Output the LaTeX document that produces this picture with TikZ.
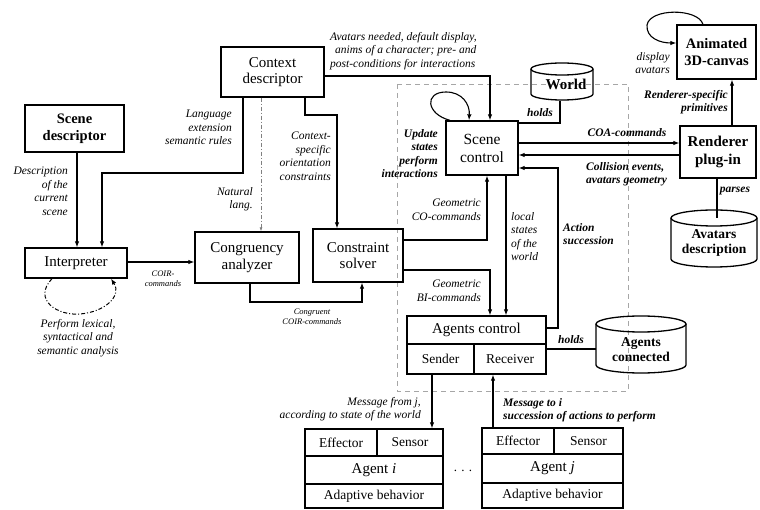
\documentclass[tikz,border=0pt]{standalone}
\usepackage{fontspec}
\setmainfont{Liberation Serif}
\usetikzlibrary{arrows.meta}
\begin{document}
\begin{tikzpicture}[x=1pt,y=1pt,
  box/.style={draw, line width=1.3pt, align=center, inner sep=0pt, font=\fontsize{15}{16.5}\selectfont},
  boldbox/.style={box, font=\fontsize{14.5}{16.5}\selectfont\bfseries},
  cell/.style={draw, line width=1.3pt, align=center, inner sep=0pt, font=\fontsize{13.5}{15}\selectfont},
  cylline/.style={line width=1.3pt},
  cyltext/.style={align=center, inner sep=0pt, font=\fontsize{13.5}{15}\selectfont\bfseries},
  conn/.style={line width=1.1pt},
  arr/.style={conn, -{Latex[length=6pt,width=4.5pt]}},
  lbl/.style={inner sep=0pt, font=\fontsize{11.5}{13.5}\selectfont\itshape},
  lblb/.style={inner sep=0pt, font=\fontsize{11.5}{13.5}\selectfont\bfseries\itshape},
  tiny/.style={inner sep=0pt, align=center, font=\fontsize{8.5}{10}\selectfont\itshape},
  frame/.style={gray!70, line width=0.8pt, dash pattern=on 5pt off 4pt},
  dashdot/.style={line width=1pt, dash pattern=on 4pt off 2pt on 1pt off 2pt}
]
\useasboundingbox (0,0) rectangle (760,-510);

% boundary of the simulation core
\draw[frame] (397,-84) rectangle (628,-391);

% ---------- boxes ----------
\node[boldbox, minimum width=99pt, minimum height=47pt] (sd) at (74.5,-128.5) {Scene\\descriptor};
\node[box, minimum width=102pt, minimum height=30pt] (interp) at (76,-263) {Interpreter};
\node[box, minimum width=103pt, minimum height=50pt] (ctx) at (272.5,-72) {Context\\descriptor};
\node[box, minimum width=104pt, minimum height=51pt] (cong) at (247,-257.5) {Congruency\\analyzer};
\node[box, minimum width=90pt, minimum height=53pt] (cs) at (358,-255.5) {Constraint\\solver};
\node[box, minimum width=72pt, minimum height=54pt, font=\fontsize{15.5}{18}\selectfont] (sc) at (482,-148) {Scene\\control};
\node[boldbox, minimum width=79pt, minimum height=54pt] (canvas) at (716.5,-52) {Animated\\3D-canvas};
\node[boldbox, minimum width=76pt, minimum height=52pt, font=\fontsize{15}{17.5}\selectfont\bfseries] (rend) at (718,-152) {Renderer\\plug-in};

% agents control
\node[box, minimum width=139pt, minimum height=58pt] (agc) at (476.5,-345) {};
\node[inner sep=0pt, font=\fontsize{15}{16.5}\selectfont] (agt) at (476.5,-330) {Agents control};
\node[cell, minimum width=67pt, minimum height=30pt] (snd) at (440.5,-359) {Sender};
\node[cell, minimum width=72pt, minimum height=30pt] (rcv) at (510,-359) {Receiver};

% agent i
\node[cell, minimum width=72pt, minimum height=27pt] (effi) at (341,-442.5) {Effector};
\node[cell, minimum width=66pt, minimum height=27pt] (seni) at (410,-442.5) {Sensor};
\node[cell, minimum width=138pt, minimum height=28pt, font=\fontsize{15}{16.5}\selectfont] (agti) at (374,-470) {Agent \textit{i}};
\node[cell, minimum width=138pt, minimum height=24pt] (adpi) at (374,-496) {Adaptive behavior};

% agent j
\node[cell, minimum width=72pt, minimum height=26pt] (effj) at (518,-441) {Effector};
\node[cell, minimum width=69pt, minimum height=26pt] (senj) at (588.5,-441) {Sensor};
\node[cell, minimum width=141pt, minimum height=29pt, font=\fontsize{15}{16.5}\selectfont] (agtj) at (552.5,-468.5) {Agent \textit{j}};
\node[cell, minimum width=141pt, minimum height=25pt] (adpj) at (552.5,-495.5) {Adaptive behavior};

\node[inner sep=0pt, font=\fontsize{13}{15}\selectfont] (dots) at (463,-471) {.\,\,.\,\,.};

% ---------- data stores ----------
% World
\draw[cylline] (531,-69) -- (531,-94) arc[start angle=180,end angle=360,x radius=31,y radius=6] -- (593,-69);
\draw[cylline] (562,-69) ellipse[x radius=31,y radius=6];
\node[inner sep=0pt, minimum width=62pt, minimum height=37pt] (world) at (562,-82) {};
\node[cyltext, font=\fontsize{15}{17}\selectfont\bfseries] at (566,-84) {World};

% Agents connected
\draw[cylline] (596,-324) -- (596,-365) arc[start angle=180,end angle=360,x radius=45,y radius=8] -- (686,-324);
\draw[cylline] (641,-324) ellipse[x radius=45,y radius=8];
\node[cyltext, minimum width=90pt, minimum height=53pt] (acon) at (641,-350) {Agents\\connected};

% Avatars description
\draw[cylline] (671,-218) -- (671,-259) arc[start angle=180,end angle=360,x radius=43,y radius=8] -- (757,-218);
\draw[cylline] (714,-218) ellipse[x radius=43,y radius=8];
\node[cyltext, minimum width=86pt, minimum height=50pt] (avd) at (714,-243) {Avatars\\description};

% ---------- connectors ----------
% scene descriptor -> interpreter
\draw[arr] ([xshift=2.5pt]sd.south) -- ([xshift=2.5pt]sd.south |- interp.north);
\node[lbl, align=right, anchor=north east] at (68,-167) {Description\\of the\\current\\scene};

% context descriptor -> interpreter
\coordinate (b1) at (102,-173);
\draw[arr] ([xshift=-29.5pt]ctx.south) |- (b1) -- (b1 |- interp.north);
\node[lbl, align=right, anchor=north east] at (232,-110) {Language\\extension\\semantic rules};

% interpreter self loop
\draw[dashdot, -{Latex[length=6pt,width=4.5pt]}] ([xshift=-24pt]interp.south)
  .. controls (32,-300) and (58,-316) .. (80,-314)
  .. controls (105,-312) and (122,-296) .. ([xshift=35pt]interp.south);
\node[lbl, align=center, anchor=north] at (78,-319) {Perform lexical,\\syntactical and\\semantic analysis};

% interpreter -> congruency analyzer
\draw[arr] ([yshift=1pt]interp.east) -- ([yshift=1pt]interp.east -| cong.west);
\node[tiny] at (163,-279) {COIR-\\commands};

% context descriptor -> congruency analyzer (natural language)
\draw[gray, dashdot, line width=0.7pt, -{Latex[length=4pt,width=3pt]}] ([xshift=-11.5pt]ctx.south) -- ([xshift=-11.5pt]ctx.south |- cong.north);
\node[lbl, align=right, anchor=north east] at (253,-187) {Natural\\lang.};

% context descriptor -> constraint solver
\coordinate (b2) at (337,-115);
\draw[arr] ([xshift=32.5pt]ctx.south) |- (b2) -- (b2 |- cs.north);
\node[lbl, align=right, anchor=north east] at (331,-132) {Context-\\specific\\orientation\\constraints};

% congruency analyzer -> constraint solver
\coordinate (b3) at (362,-302);
\draw[arr] ([xshift=3pt]cong.south) |- (b3) -- (b3 |- cs.south);
\node[tiny] at (312,-317) {Congruent\\COIR-commands};

% context descriptor -> scene control
\draw[arr] ([yshift=-4pt]ctx.east) -| ([xshift=8pt]sc.north);
\node[lbl, align=left, anchor=north west] at (330,-32) {Avatars needed, default display,\\\hspace*{5pt}anims of a character; pre- and\\post-conditions for interactions};

% scene control self loop
\draw[arr] ([xshift=-32pt]sc.north) .. controls (426,-114) and (424,-92) .. (446,-92)
  .. controls (462,-92) and (470,-104) .. ([xshift=-13pt]sc.north);
\node[lblb, align=right, anchor=north east] at (438,-129) {Update\\states\\perform\\interactions};

% world holds scene control
\draw[conn] ([xshift=-2pt]world.south) |- ([yshift=25pt]sc.east);
\node[lblb] at (540,-113) {holds};

% scene control <-> renderer
\draw[arr] ([yshift=5pt]sc.east) -- ([yshift=5pt]sc.east -| rend.west);
\node[lblb] at (627,-133) {COA-commands};
\draw[arr] ([yshift=-7pt]sc.east -| rend.west) -- ([yshift=-7pt]sc.east);
\node[lblb, align=left, anchor=north west] at (586,-162) {Collision events,\\avatars geometry};

% agents control -> scene control
\coordinate (b4) at (558,-168);
\draw[arr] ([yshift=17pt]agc.east) -| (b4) -- (b4 -| sc.east);
\node[lblb, align=left, anchor=north west] at (563,-223) {Action\\succession};

% scene control -> agents control
\draw[arr] ([xshift=24pt]sc.south) -- ([xshift=24pt]sc.south |- agc.north);
\node[lbl, align=left, anchor=north west] at (511,-212) {local\\states\\of the\\world};

% constraint solver -> scene control / agents control
\draw[arr] ([yshift=15.5pt]cs.east) -| ([xshift=5pt]sc.south);
\node[lbl, align=right, anchor=north east] at (481,-199) {Geometric\\CO-commands};
\draw[arr] ([yshift=-14.5pt]cs.east) -| ([xshift=13.5pt]agc.north);
\node[lbl, align=right, anchor=north east] at (481,-280) {Geometric\\BI-commands};

% agents control holds agents connected
\draw[conn] ([yshift=-4pt]agc.east) -- ([yshift=-4pt]agc.east -| acon.west);
\node[lblb] at (571,-340) {holds};

% renderer -> canvas
\draw[arr] ([xshift=14pt]rend.north) -- ([xshift=14pt]rend.north |- canvas.south);
\node[lblb, align=right, anchor=north east] at (728,-90) {Renderer-specific\\primitives};

% canvas self loop
\draw[arr] ([xshift=-13.5pt]canvas.north) .. controls (698,-8) and (650,-8) .. (647,-25)
  .. controls (646,-38) and (660,-43) .. ([yshift=9pt]canvas.west);
\node[lbl, align=right, anchor=north east] at (670,-52) {display\\avatars};

% renderer parses avatars description
\draw[conn] ([xshift=-1pt]rend.south) -- ([xshift=-1pt]rend.south |- avd.north);
\node[lblb] at (735,-191) {parses};

% messages between agents control and agents
\draw[arr] ([xshift=-8.5pt]snd.south) -- ([xshift=-8.5pt]snd.south |- seni.north);
\node[lbl, align=right, anchor=north east] at (421,-397) {Message from \textit{j},\\according to state of the world};
\draw[arr] ([xshift=-25pt]effj.north) -- ([xshift=-25pt]effj.north |- rcv.south);
\node[lblb, align=left, anchor=north west] at (503,-398) {Message to \textit{i}\\succession of actions to perform};
\end{tikzpicture}
\end{document}
